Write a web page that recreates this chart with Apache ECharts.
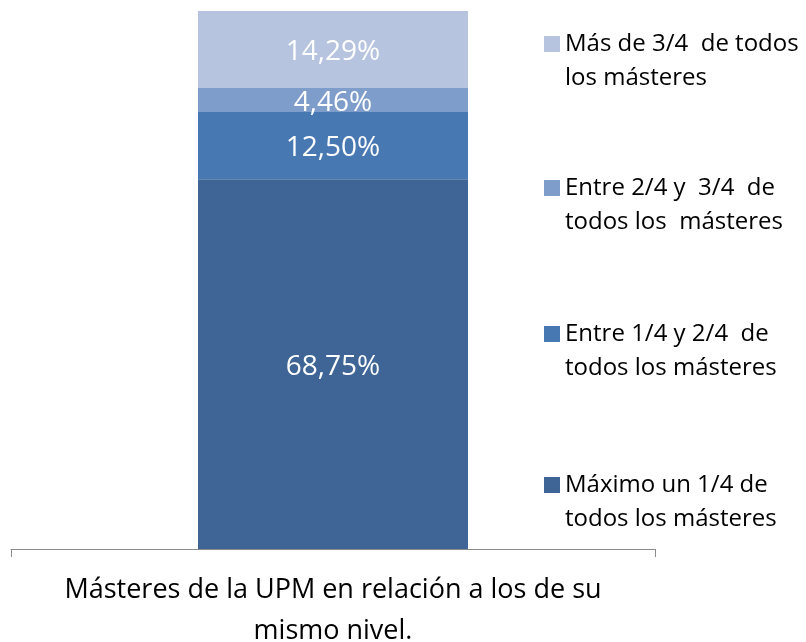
<!DOCTYPE html>
<html>
<head>
<meta charset="utf-8">
<script src="https://cdn.jsdelivr.net/npm/echarts@6/dist/echarts.min.js"></script>
<style>
  html, body { margin: 0; padding: 0; background: #fff; }
  #chart { width: 806px; height: 642px; }
</style>
</head>
<body>
<div id="chart"></div>
<script>
// categoria del eje y series apiladas (de abajo a arriba)
var categories = ['Másteres de la UPM en relación a los de su\nmismo nivel.'];
var seriesNames = [
  'Máximo un 1/4 de\ntodos los másteres',
  'Entre 1/4 y 2/4  de\ntodos los másteres',
  'Entre 2/4 y  3/4  de\ntodos los  másteres',
  'Más de 3/4  de todos\nlos másteres'
];
var seriesValues = [68.75, 12.50, 4.46, 14.29];
var seriesColors = ['#3e6596', '#4878b1', '#7f9dcb', '#b7c4df'];
var legendTops = [434, 283, 137, -7];

var font = 'Open Sans';
var chart = echarts.init(document.getElementById('chart'));

var series = seriesValues.map(function (v, i) {
  return {
    name: seriesNames[i],
    type: 'bar',
    stack: 'total',
    barWidth: 270,
    data: [v],
    itemStyle: { color: seriesColors[i] },
    label: {
      show: true,
      position: 'inside',
      offset: [0, 3],
      color: '#fff',
      fontFamily: font,
      fontSize: 28,
      formatter: function (p) {
        return p.value.toFixed(2).replace('.', ',') + '%';
      }
    }
  };
});

// una leyenda por serie; la linea vacia de arriba alinea el icono con la primera linea
var legends = seriesNames.map(function (n, i) {
  return {
    data: [n],
    left: 544,
    top: legendTops[i],
    padding: 0,
    orient: 'vertical',
    icon: 'rect',
    itemWidth: 16,
    itemHeight: 16,
    selectedMode: false,
    formatter: function (name) { return ' \n' + name; },
    textStyle: {
      fontFamily: font,
      fontSize: 24,
      lineHeight: 34,
      color: '#000'
    }
  };
});

var option = {
  animation: false,
  grid: { left: 11, right: 151, top: 11, bottom: 93, containLabel: false, outerBoundsMode: 'none' },
  legend: legends,
  xAxis: {
    type: 'category',
    data: categories,
    axisLine: { lineStyle: { color: '#8c8c8c', width: 1 } },
    axisTick: { show: true, length: 8, lineStyle: { color: '#8c8c8c' } },
    axisLabel: {
      interval: 0,
      margin: 21,
      color: '#000',
      fontFamily: font,
      fontSize: 27,
      lineHeight: 41
    }
  },
  yAxis: {
    type: 'value',
    min: 0,
    max: 100,
    show: false
  },
  series: series
};
chart.setOption(option);
</script>
</body>
</html>
